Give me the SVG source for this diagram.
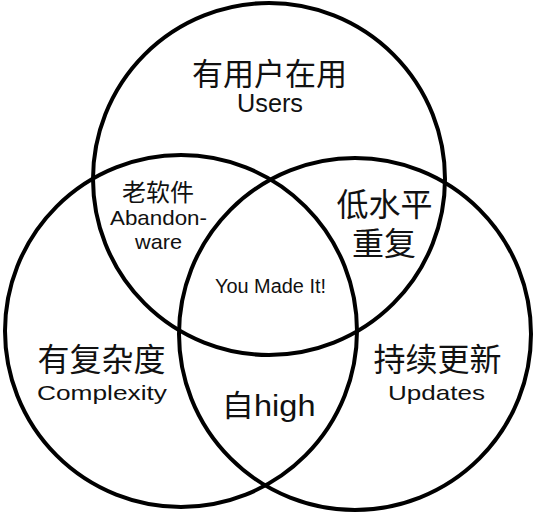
<svg xmlns="http://www.w3.org/2000/svg" width="536" height="513" viewBox="0 0 536 513">
  <style>
    .ring { fill: none; stroke: #000; stroke-width: 4; }
    .cjk { font-family: "Noto Sans CJK SC", sans-serif; fill: #111; text-anchor: middle; }
    .lat { font-family: "Liberation Sans", "Noto Sans CJK SC", sans-serif; fill: #111; text-anchor: middle; }
  </style>
  <rect width="536" height="513" fill="#fff"/>
  <g id="circle-users">
    <circle class="ring" cx="269" cy="179" r="176"/>
  </g>
  <g id="circle-complexity">
    <circle class="ring" cx="181" cy="331" r="176"/>
  </g>
  <g id="circle-updates">
    <circle class="ring" cx="355" cy="334" r="176"/>
  </g>
  <g id="label-users">
    <text class="cjk" x="269.5" y="85" font-size="31">有用户在用</text>
    <text class="lat" x="270" y="112" font-size="25" textLength="66" lengthAdjust="spacingAndGlyphs">Users</text>
  </g>
  <g id="label-abandonware">
    <text class="cjk" x="158" y="201" font-size="24">老软件</text>
    <text class="lat" x="158.5" y="225" font-size="21" textLength="97" lengthAdjust="spacingAndGlyphs">Abandon-</text>
    <text class="lat" x="158.5" y="249" font-size="21" textLength="47" lengthAdjust="spacingAndGlyphs">ware</text>
  </g>
  <g id="label-low-level">
    <text class="cjk" x="384.5" y="216" font-size="32">低水平</text>
    <text class="cjk" x="384" y="255" font-size="32">重复</text>
  </g>
  <g id="label-you-made-it">
    <text class="lat" x="270.5" y="293" font-size="20" textLength="111" lengthAdjust="spacingAndGlyphs">You Made It!</text>
  </g>
  <g id="label-complexity">
    <text class="cjk" x="101.5" y="371" font-size="32">有复杂度</text>
    <text class="lat" x="102" y="400" font-size="21" textLength="130" lengthAdjust="spacingAndGlyphs">Complexity</text>
  </g>
  <g id="label-updates">
    <text class="cjk" x="437.5" y="371" font-size="32">持续更新</text>
    <text class="lat" x="436.5" y="400" font-size="21" textLength="97" lengthAdjust="spacingAndGlyphs">Updates</text>
  </g>
  <g id="label-self-high">
    <text class="lat" x="268.5" y="416" font-size="30" textLength="94" lengthAdjust="spacingAndGlyphs">自high</text>
  </g>
</svg>
